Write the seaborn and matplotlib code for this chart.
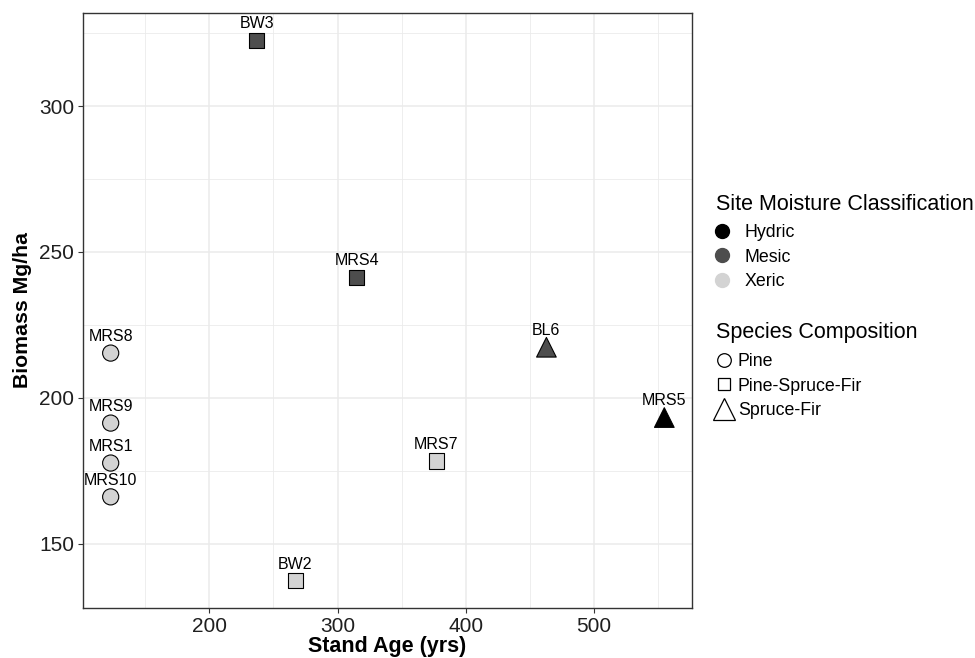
import matplotlib
matplotlib.use("Agg")
import matplotlib.pyplot as plt
from matplotlib.lines import Line2D
from matplotlib.ticker import MultipleLocator
import seaborn as sns
import pandas as pd

# data
sites = ["BW3", "MRS4", "BL6", "MRS5", "MRS8", "MRS9", "MRS1", "MRS10", "MRS7", "BW2"]
stand_age = [237, 315, 463, 555, 123, 123, 123, 123, 377, 267]
biomass = [322.6, 241.3, 217.3, 193.2, 215.3, 191.3, 177.6, 166.0, 178.3, 137.2]
moisture = ["Mesic", "Mesic", "Mesic", "Hydric", "Xeric", "Xeric", "Xeric", "Xeric", "Xeric", "Xeric"]
species = ["Pine-Spruce-Fir", "Pine-Spruce-Fir", "Spruce-Fir", "Spruce-Fir", "Pine", "Pine",
           "Pine", "Pine", "Pine-Spruce-Fir", "Pine-Spruce-Fir"]

moisture_levels = ["Hydric", "Mesic", "Xeric"]
species_levels = ["Pine", "Pine-Spruce-Fir", "Spruce-Fir"]
fill_colors = {"Hydric": "#000000", "Mesic": "#4d4d4d", "Xeric": "#d3d3d3"}
shapes = {"Pine": "o", "Pine-Spruce-Fir": "s", "Spruce-Fir": "^"}
shape_sizes = {"Pine": 135, "Pine-Spruce-Fir": 118, "Spruce-Fir": 200}

df = pd.DataFrame({"site": sites, "age": stand_age, "biomass": biomass,
                   "moisture": moisture, "species": species})

sns.set_theme(style="whitegrid")
plt.rcParams["font.family"] = ["Liberation Sans", "DejaVu Sans"]
plt.rcParams["text.color"] = "black"
plt.rcParams["axes.labelcolor"] = "black"

fig = plt.figure(figsize=(9.75, 6.58), dpi=100)
ax = fig.add_axes([83 / 975, 50 / 658, 609 / 975, 595 / 658])

sns.scatterplot(data=df, x="age", y="biomass", hue="moisture", style="species",
                size="species", palette=fill_colors, markers=shapes, sizes=shape_sizes,
                hue_order=moisture_levels, style_order=species_levels, size_order=species_levels,
                edgecolor="black", linewidth=0.8, legend=False, ax=ax, zorder=3)

for _, r in df.iterrows():
    ax.annotate(r["site"], (r["age"], r["biomass"]), xytext=(0, 12), textcoords="offset points",
                ha="center", va="center", fontsize=11.5, color="black", zorder=4)

ax.set_xlim(101.4, 576.6)
ax.set_ylim(127.9, 331.9)
ax.xaxis.set_major_locator(MultipleLocator(100))
ax.yaxis.set_major_locator(MultipleLocator(50))
ax.xaxis.set_minor_locator(MultipleLocator(50))
ax.yaxis.set_minor_locator(MultipleLocator(25))
ax.grid(which="major", color="#ebebeb", linewidth=1.1)
ax.grid(which="minor", color="#ebebeb", linewidth=0.6)
ax.set_axisbelow(True)
for sp in ax.spines.values():
    sp.set_color("#333333")
    sp.set_linewidth(1.0)
ax.tick_params(which="major", length=3.5, width=0.8, color="#333333", labelsize=15,
               labelcolor="#1f1f1f", pad=3, bottom=True, left=True)
ax.tick_params(which="minor", length=0)

ax.set_xlabel("Stand Age (yrs)", fontsize=15.5, fontweight="bold", labelpad=0)
ax.set_ylabel("Biomass Mg/ha", fontsize=15.3, fontweight="bold", labelpad=5)

# legends built by hand, one per mapping; titles placed as plain text
fig.text(716 / 975, 1 - 204 / 658, "Site Moisture Classification", fontsize=15.5,
         ha="left", va="center")
hue_handles = [Line2D([], [], marker="o", linestyle="", markersize=10,
                      markerfacecolor=fill_colors[m], markeredgecolor=fill_colors[m])
               for m in moisture_levels]
leg1 = fig.legend(hue_handles, moisture_levels, loc="center left",
                  bbox_to_anchor=(713 / 975, 1 - 257 / 658),
                  frameon=False, fontsize=12.8, handletextpad=0.75,
                  labelspacing=0.42, borderaxespad=0, borderpad=0, handlelength=1.0)

fig.text(716 / 975, 1 - 333 / 658, "Species Composition", fontsize=15.5,
         ha="left", va="center")
sp_handles = [Line2D([], [], marker=shapes[s], linestyle="", markersize=ms,
                     markerfacecolor="white", markeredgecolor="black", markeredgewidth=0.9)
              for s, ms in zip(species_levels, [9.8, 9, 15.5])]
leg2 = fig.legend(sp_handles, species_levels, loc="center left",
                  bbox_to_anchor=(713 / 975, 1 - 386 / 658),
                  frameon=False, fontsize=12.8, handletextpad=0.2,
                  labelspacing=0.42, borderaxespad=0, borderpad=0, handlelength=1.2)

fig.savefig("out.png", dpi=100)
